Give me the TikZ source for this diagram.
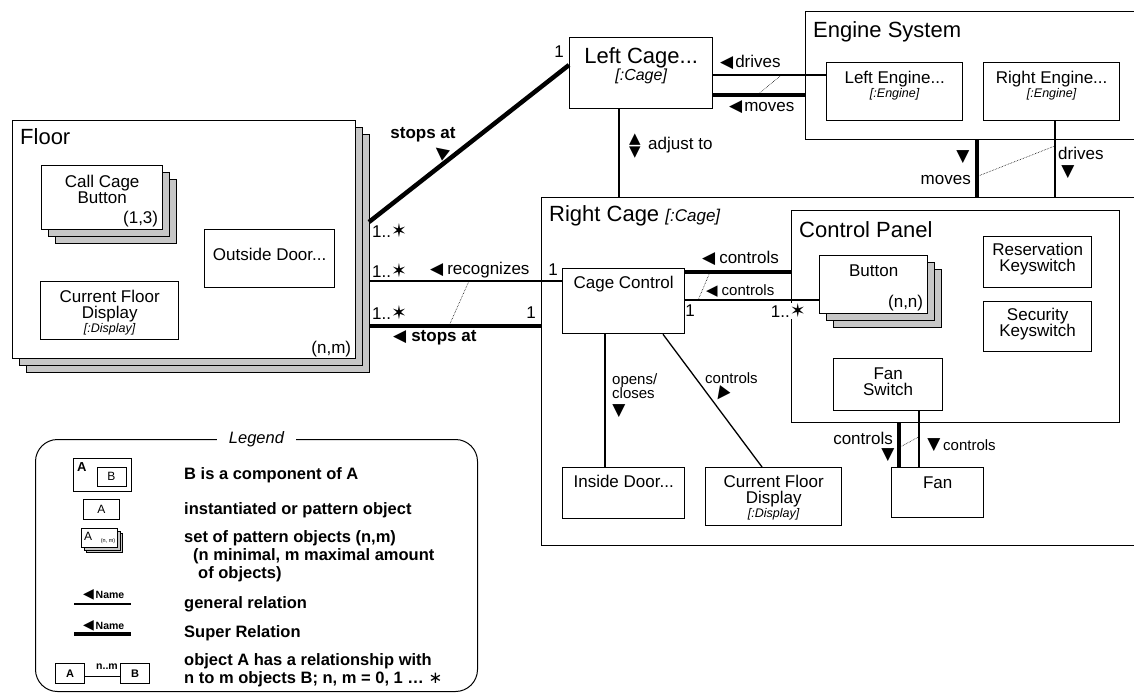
\documentclass[tikz,border=0pt]{standalone}
\usepackage{fontspec}
\setmainfont{Liberation Sans}
\newfontfamily\symfont{DejaVu Sans}
\usetikzlibrary{positioning,shadows}

\newcommand\fTitle{\fontsize{22}{24}\selectfont}
\newcommand\fObj{\fontsize{17}{16}\selectfont}
\newcommand\fSmall{\fontsize{15}{14}\selectfont}
\newcommand\fType{\itshape\fontsize{12.5}{13}\selectfont}
\newcommand\fLeg{\bfseries\fontsize{16.5}{18}\selectfont}
\newcommand\tril{{\symfont ◀}}
\newcommand\trid{{\symfont ▼}}
\newcommand\mstar{{\symfont\fontsize{19}{19}\selectfont ✶}}

\begin{document}
\begin{tikzpicture}[x=1pt,y=-1pt,
  box/.style={draw,line width=1.3pt,fill=white,inner sep=0pt,anchor=north west},
  stackfill/.style={fill=black!22,draw,line width=1.3pt},
  stack/.style={box,copy shadow={shadow xshift=14pt,shadow yshift=-14pt,stackfill},copy shadow={shadow xshift=7pt,shadow yshift=-7pt,stackfill}},
  stacksm/.style={box,line width=0.8pt,copy shadow={shadow xshift=5pt,shadow yshift=-5pt,stackfill,line width=0.8pt},copy shadow={shadow xshift=2.5pt,shadow yshift=-2.5pt,stackfill,line width=0.8pt}},
  txt/.style={inner sep=0pt,align=center,font=\fObj},
  ttl/.style={inner sep=0pt,anchor=north west,font=\fTitle},
  lab/.style={inner sep=0pt,font=\fObj},
  rel/.style={line width=1.3pt},
  srel/.style={line width=4.5pt},
  dotlink/.style={densely dotted,line width=0.6pt},
  leg/.style={inner sep=0pt,anchor=base west,font=\fLeg}]
\useasboundingbox (0,0) rectangle (1134,693);
\clip (0,0) rectangle (1134,693);

% floor
\node[stack,minimum width=343pt,minimum height=238pt] (floor) at (12,120) {};
\node[ttl,below right=8pt and 8pt of floor.north west] (floor-t) {Floor};
\node[lab,above left=2pt and 5pt of floor.south east] (floor-n) {(n,m)};
\node[stack,minimum width=121pt,minimum height=64pt] (callbtn) at (41,165) {};
\node[txt,below=10pt of callbtn.north] (callbtn-t) {Call Cage\\Button};
\node[lab,above left=3pt and 5pt of callbtn.south east] (callbtn-n) {(1,3)};
\node[box,minimum width=130pt,minimum height=58pt] (outdoor) at (204,229) {};
\node[txt,below=19pt of outdoor.north] (outdoor-t) {Outside Door...};
\node[box,minimum width=138pt,minimum height=58pt] (fdisp) at (40,281) {};
\node[txt,below=9pt of fdisp.north] (fdisp-t) {Current Floor\\Display\\[-2pt]{\fType[:Display]}};

% cages and engines
\node[box,minimum width=143pt,minimum height=71pt] (lcage) at (569,37) {};
\node[txt,font=\fontsize{22}{17}\selectfont,below=10pt of lcage.north] (lcage-t) {Left Cage...\\{\itshape\fontsize{16}{17}\selectfont[:Cage]}};
\node[box,minimum width=400pt,minimum height=128pt] (engsys) at (805,11) {};
\node[ttl,below right=10pt and 8pt of engsys.north west] (engsys-t) {Engine System};
\node[box,minimum width=136pt,minimum height=58pt] (leng) at (826,62) {};
\node[txt,font=\fontsize{17}{12.5}\selectfont,below=9pt of leng.north] (leng-t) {Left Engine...\\{\fType[:Engine]}};
\node[box,minimum width=136pt,minimum height=58pt] (reng) at (983,62) {};
\node[txt,font=\fontsize{17}{12.5}\selectfont,below=9pt of reng.north] (reng-t) {Right Engine...\\{\fType[:Engine]}};
\node[box,minimum width=700pt,minimum height=348pt] (rcage) at (541,197) {};
\node[ttl,below right=8pt and 8pt of rcage.north west] (rcage-t) {Right Cage {\itshape\fontsize{17}{17}\selectfont[:Cage]}};
\node[box,minimum width=122pt,minimum height=65pt] (cagectrl) at (562,268) {};
\node[txt,below=8pt of cagectrl.north] (cagectrl-t) {Cage Control};
\node[box,minimum width=122pt,minimum height=51pt] (indoor) at (562,467) {};
\node[txt,below=8pt of indoor.north] (indoor-t) {Inside Door...};
\node[box,minimum width=136pt,minimum height=58pt] (cdisp) at (705,467) {};
\node[txt,below=8pt of cdisp.north] (cdisp-t) {Current Floor\\Display\\[-2pt]{\fType[:Display]}};

% control panel
\node[box,minimum width=328pt,minimum height=212pt] (cpanel) at (791,210) {};
\node[ttl,below right=11pt and 8pt of cpanel.north west] (cpanel-t) {Control Panel};
\node[stack,minimum width=108pt,minimum height=58pt] (button) at (819,255) {};
\node[txt,below=10pt of button.north] (button-t) {Button};
\node[lab,above left=3pt and 5pt of button.south east] (button-n) {(n,n)};
\node[box,minimum width=108pt,minimum height=51pt] (reskey) at (983,236) {};
\node[txt,below=7pt of reskey.north] (reskey-t) {Reservation\\Keyswitch};
\node[box,minimum width=108pt,minimum height=50pt] (seckey) at (983,301) {};
\node[txt,below=7pt of seckey.north] (seckey-t) {Security\\Keyswitch};
\node[box,minimum width=109pt,minimum height=52pt] (fansw) at (833,358) {};
\node[txt,below=10pt of fansw.north] (fansw-t) {Fan\\Switch};
\node[box,minimum width=92pt,minimum height=50pt] (fan) at (891,467) {};
\node[txt,below=10pt of fan.north] (fan-t) {Fan};

% relations
\coordinate (fl-stop1) at (369,222);
\coordinate (fl-rec) at (369,281);
\coordinate (fl-stop2) at (369,326);
\draw[srel] (fl-stop1) -- (lcage.west |- 0,65);
\draw[rel] (fl-rec) -- (fl-rec -| cagectrl.west) coordinate[pos=0.518] (rec-p);
\draw[srel] (fl-stop2) -- (fl-stop2 -| rcage.west) coordinate[pos=0.465] (stop-p);
\draw[rel] (lcage.east |- 0,75) -- (leng.west |- 0,75) coordinate[pos=0.605] (drv-p);
\draw[srel] (lcage.east |- 0,95) -- (engsys.west |- 0,95) coordinate[pos=0.48] (mov-p);
\draw[rel] (619,0 |- lcage.south) -- (619,0 |- rcage.north);
\draw[srel] (977,0 |- engsys.south) -- (977,0 |- rcage.north) coordinate[pos=0.638] (mov2-p);
\draw[rel] (1055,0 |- reng.south) -- (1055,0 |- rcage.north) coordinate[pos=0.325] (drv2-p);
\draw[srel] (cagectrl.east |- 0,272) -- (cpanel.west |- 0,272) coordinate[pos=0.234] (ctl1-p);
\draw[rel] (cagectrl.east |- 0,300) -- (button.west |- 0,300) coordinate[pos=0.096] (ctl2-p);
\draw[rel] (605,0 |- cagectrl.south) -- (605,0 |- indoor.north);
\draw[rel] (663,0 |- cagectrl.south) -- (762,0 |- cdisp.north);
\draw[srel] (899,0 |- cpanel.south) -- (899,0 |- fan.north) coordinate[pos=0.556] (ctl4-p);
\draw[rel] (919,0 |- fansw.south) -- (919,0 |- fan.north) coordinate[pos=0.456] (ctl5-p);
\draw[dotlink] (stop-p) -- (rec-p);
\draw[dotlink] (mov-p) -- (drv-p);
\draw[dotlink] (mov2-p) -- (drv2-p);
\draw[dotlink] (ctl2-p) -- (ctl1-p);
\draw[dotlink] (ctl4-p) -- (ctl5-p);

% relation labels
\node[lab,font=\fObj\bfseries] (stop1-l) at (423,135) {stops at};
\node[lab,rotate=-38] (stop1-a) at (441,152) {\tril};
\node[lab] (lcage-m) at (559,52) {1};
\node[lab,anchor=west] (m1) at (372,231) {1..\mstar};
\node[lab,anchor=west] (m2) at (372,271) {1..\mstar};
\node[lab,anchor=west] (m3) at (372,313) {1..\mstar};
\node[lab,anchor=west] (rec-l) at (430,270) {\tril\hspace{4pt}recognizes};
\node[lab] (rec-1) at (553,270) {1};
\node[lab] (stop2-1) at (531,313) {1};
\node[lab,anchor=west,font=\fObj\bfseries] (stop2-l) at (393,338) {\tril\hspace{5pt}stops at};
\node[lab,anchor=west] (drv-l) at (720,62) {\tril\hspace{2pt}drives};
\node[lab,anchor=west] (mov-l) at (729,107) {\tril\hspace{2pt}moves};
\node[inner sep=0pt,align=center,font=\symfont\fontsize{15}{13.5}\selectfont] (adj-a) at (635,146) {▲\\▼};
\node[lab,anchor=west] (adj-l) at (648,145) {adjust to};
\node[lab] (mov2-a) at (963,157) {\trid};
\node[lab,anchor=east] (mov2-l) at (971,180) {moves};
\node[lab,anchor=west] (drv2-l) at (1058,153) {drives};
\node[lab] (drv2-a) at (1068,172) {\trid};
\node[lab,anchor=west] (ctl1-l) at (702,258) {\tril\hspace{4pt}controls};
\node[lab,anchor=west,font=\fSmall] (ctl2-l) at (706,291) {\tril\hspace{4pt}controls};
\node[lab] (ctl2-1) at (690,311) {1};
\node[lab,anchor=east,fill=white,inner ysep=1pt,inner xsep=2pt] (ctl2-m) at (808,311) {1..\mstar};
\node[lab,align=left,anchor=north west,font=\fSmall] (opn-l) at (612,373) {opens/\\closes};
\node[lab] (opn-a) at (619,411) {\trid};
\node[lab,anchor=west,font=\fSmall] (ctl3-l) at (705,378) {controls};
\node[lab,rotate=53.5] (ctl3-a) at (722,395) {\tril};
\node[lab,anchor=east] (ctl4-l) at (893,438) {controls};
\node[lab] (ctl4-a) at (888,455) {\trid};
\node[lab] (ctl5-a) at (934,445) {\trid};
\node[lab,anchor=west,font=\fSmall] (ctl5-l) at (943,445) {controls};

% legend
\node[box,rounded corners=22pt,line width=1pt,minimum width=442pt,minimum height=252pt] (legend) at (35,439) {};
\node[fill=white,inner xsep=12pt,inner ysep=1pt,font=\itshape\fontsize{16.5}{18}\selectfont] (legend-t) at (legend.north) {Legend};
\node[box,line width=1pt,minimum width=58pt,minimum height=33pt] (lg-comp) at (73,458) {};
\node[inner sep=0pt,anchor=north west,font=\bfseries\fontsize{13}{13}\selectfont] (lg-comp-a) at (77,462) {A};
\node[box,anchor=center,line width=1pt,minimum width=29pt,minimum height=19pt,font=\fontsize{12}{12}\selectfont] (lg-comp-b) at (111.5,476.5) {B};
\node[box,line width=1pt,minimum width=36pt,minimum height=20pt,font=\fontsize{12}{12}\selectfont] (lg-obj) at (83,499) {A};
\node[stacksm,minimum width=36pt,minimum height=19pt] (lg-set) at (81,528) {};
\node[inner sep=0pt,anchor=west,font=\fontsize{12}{12}\selectfont] (lg-set-a) at (84,536) {A};
\node[inner sep=0pt,font=\fontsize{5.5}{6}\selectfont] (lg-set-n) at (108,541) {(n, m)};
\coordinate (lg-g1) at (74,604);
\coordinate (lg-g2) at (131,604);
\draw[rel,line width=1.2pt] (lg-g1) -- (lg-g2);
\node[inner sep=0pt,anchor=west,font=\bfseries\fontsize{10.5}{11}\selectfont] (lg-g-l) at (83,595) {{\fontsize{14}{14}\selectfont\tril}\,Name};
\coordinate (lg-s1) at (74,634);
\coordinate (lg-s2) at (131,634);
\draw[srel,line width=3.5pt] (lg-s1) -- (lg-s2);
\node[inner sep=0pt,anchor=west,font=\bfseries\fontsize{10.5}{11}\selectfont] (lg-s-l) at (83,626) {{\fontsize{14}{14}\selectfont\tril}\,Name};
\node[box,line width=1pt,minimum width=29pt,minimum height=20pt,font=\bfseries\fontsize{11}{11}\selectfont] (lg-ra) at (55,663) {A};
\node[box,line width=1pt,minimum width=29pt,minimum height=20pt,font=\bfseries\fontsize{11}{11}\selectfont] (lg-rb) at (120,663) {B};
\draw[line width=0.8pt] (lg-ra.east |- 0,676) -- (lg-rb.west |- 0,676);
\node[inner sep=0pt,font=\bfseries\fontsize{10.5}{11}\selectfont] (lg-r-l) at (107,667) {n..m};
\node[leg] (lg-t1) at (184,479) {B is a component of A};
\node[leg] (lg-t2) at (184,514) {instantiated or pattern object};
\node[leg,anchor=north west,align=left] (lg-t3) at (184,530) {set of pattern objects (n,m)\\\hspace*{9pt}(n minimal, m maximal amount\\\hspace*{14pt}of objects)};
\node[leg] (lg-t4) at (184,608) {general relation};
\node[leg] (lg-t5) at (184,637) {Super Relation};
\node[leg,anchor=north west,align=left] (lg-t6) at (184,653) {object A has a relationship with\\n to m objects B; n, m = 0, 1 … {\mdseries\symfont ∗}};
\end{tikzpicture}
\end{document}
